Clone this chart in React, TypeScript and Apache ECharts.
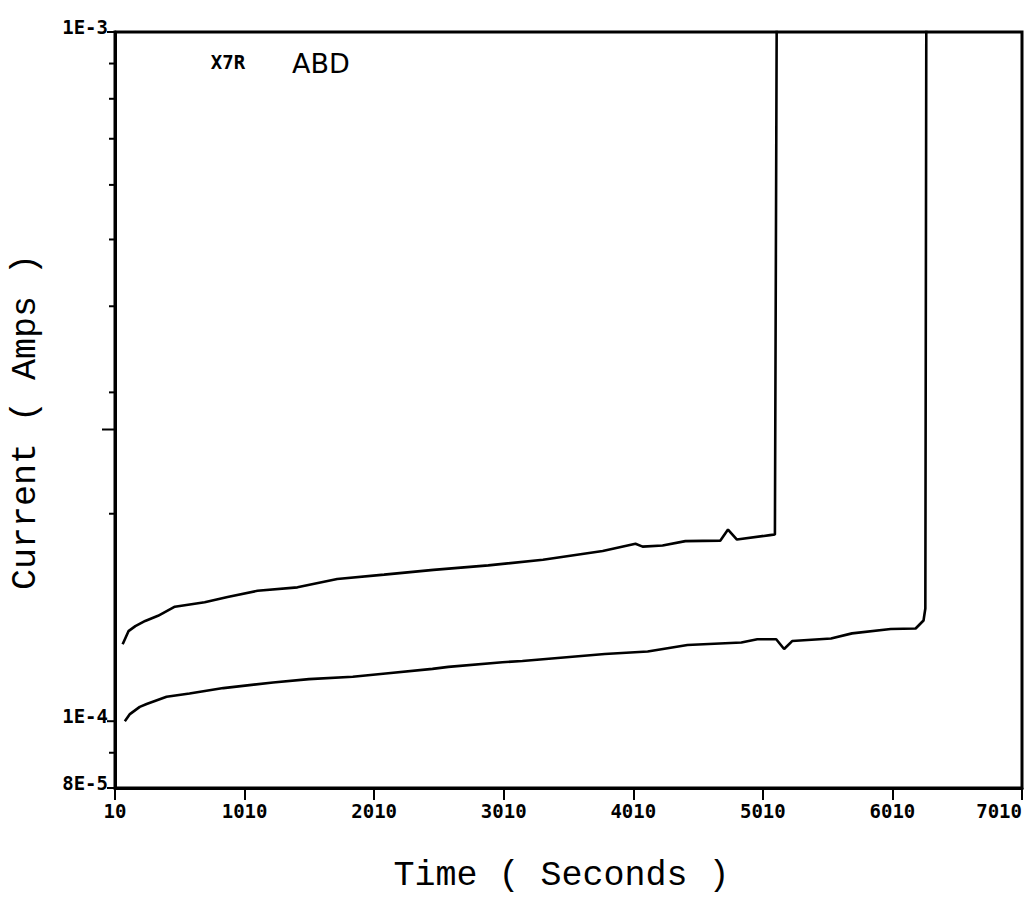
import React, { useEffect, useRef } from "react";
import * as echarts from "echarts";

// Leakage current of two X7R parts held under stress, logged against elapsed time.
const timeUpper = [69, 114, 167, 243, 342, 472, 702, 879, 1110, 1418, 1725, 2087, 2468, 2891, 3313, 3774, 4027, 4082, 4236, 4412, 4681, 4741, 4810, 5065, 5103, 5118];
const currentUpper = [1.293e-4, 1.351e-4, 1.374e-4, 1.398e-4, 1.422e-4, 1.466e-4, 1.488e-4, 1.514e-4, 1.546e-4, 1.564e-4, 1.608e-4, 1.632e-4, 1.658e-4, 1.683e-4, 1.715e-4, 1.766e-4, 1.809e-4, 1.792e-4, 1.799e-4, 1.825e-4, 1.828e-4, 1.897e-4, 1.835e-4, 1.862e-4, 1.866e-4, 1.2e-3];

const timeLower = [86, 125, 201, 254, 408, 585, 846, 1230, 1507, 1845, 2099, 2460, 2583, 3000, 3154, 3790, 4121, 4428, 4844, 4967, 5113, 5174, 5236, 5536, 5698, 5997, 6189, 6250, 6264, 6272];
const currentLower = [1.0e-4, 1.024e-4, 1.049e-4, 1.059e-4, 1.085e-4, 1.097e-4, 1.117e-4, 1.138e-4, 1.151e-4, 1.16e-4, 1.173e-4, 1.191e-4, 1.199e-4, 1.218e-4, 1.223e-4, 1.252e-4, 1.262e-4, 1.29e-4, 1.301e-4, 1.315e-4, 1.315e-4, 1.273e-4, 1.307e-4, 1.318e-4, 1.341e-4, 1.361e-4, 1.363e-4, 1.4e-4, 1.457e-4, 1.2e-3];

// Axis ranges and the left-axis tick marks / labels
const X_MIN = 10;
const X_MAX = 7010;
const X_STEP = 1000;
const Y_MIN = 8e-5;
const Y_MAX = 1e-3;
const yLabelValues = [1e-3, 1e-4, 8e-5];
const yLabelTexts = ["1E-3", "1E-4", "8E-5"];
const yMinorTicks = [9e-4, 8e-4, 7e-4, 6e-4, 5e-4, 4e-4, 3e-4, 2e-4, 9e-5];
const yLongTick = [2.65e-4];

const TICK_FONT = {
  fontFamily: "DejaVu Sans Mono",
  fontWeight: "bold" as const,
  fontSize: 19,
};
const TITLE_FONT = {
  fontFamily: "Liberation Mono",
  fontSize: 35,
  color: "#000",
};

type TickItem = { v: number; len: number; label: string };
const tickItems: TickItem[] = [
  ...yLabelValues.map((v, i) => ({ v, len: 8, label: yLabelTexts[i] })),
  ...yMinorTicks.map((v) => ({ v, len: 6, label: "" })),
  ...yLongTick.map((v) => ({ v, len: 13, label: "" })),
];

export default function App() {
  const ref = useRef<HTMLDivElement>(null);

  useEffect(() => {
    if (!ref.current) return;
    const chart = echarts.init(ref.current, null, { renderer: "svg" });

    const lineStyle = { color: "#000", width: 2.6 };

    chart.setOption({
      animation: false,
      backgroundColor: "#fff",
      grid: {
        left: 113,
        top: 32,
        width: 909,
        height: 756,
        show: true,
        borderColor: "#000",
        borderWidth: 3,
        backgroundColor: "transparent",
      },
      xAxis: {
        type: "value",
        min: X_MIN,
        max: X_MAX,
        interval: X_STEP,
        name: "Time ( Seconds )",
        nameLocation: "middle",
        nameGap: 70,
        nameTextStyle: { ...TITLE_FONT, padding: [0, 14, 0, 0] },
        axisLine: { show: true, lineStyle: { color: "#000", width: 3 } },
        axisTick: { show: true, inside: false, length: 12, lineStyle: { color: "#000", width: 2 } },
        axisLabel: {
          ...TICK_FONT,
          color: "#000",
          margin: 13,
          alignMaxLabel: "right",
          formatter: (v: number) => String(v),
        },
        splitLine: { show: false },
      },
      yAxis: {
        type: "log",
        logBase: 10,
        min: Y_MIN,
        max: Y_MAX,
        name: "Current ( Amps )",
        nameLocation: "middle",
        nameRotate: 90,
        nameGap: 72,
        nameTextStyle: { ...TITLE_FONT, padding: [0, 24, 0, 0] },
        axisLine: { show: true, lineStyle: { color: "#000", width: 3 } },
        axisTick: { show: false },
        axisLabel: { show: false },
        splitLine: { show: false },
      },
      graphic: [
        {
          type: "text",
          x: 228,
          y: 62,
          style: {
            text: "X7R",
            fontFamily: "DejaVu Sans Mono",
            fontWeight: "bold",
            fontSize: 19,
            fill: "#000",
            align: "center",
            verticalAlign: "middle",
          },
        },
        {
          type: "text",
          x: 321,
          y: 63,
          style: {
            text: "ABD",
            fontFamily: "DejaVu Sans",
            fontSize: 27,
            fill: "#000",
            align: "center",
            verticalAlign: "middle",
          },
        },
      ],
      series: [
        {
          type: "line",
          data: timeUpper.map((t, i) => [t, currentUpper[i]]),
          showSymbol: false,
          symbol: "none",
          lineStyle,
          clip: true,
          silent: true,
        },
        {
          type: "line",
          data: timeLower.map((t, i) => [t, currentLower[i]]),
          showSymbol: false,
          symbol: "none",
          lineStyle,
          clip: true,
          silent: true,
        },
        {
          // left-axis tick marks and their labels
          type: "custom",
          silent: true,
          clip: false,
          data: tickItems.map((t) => [X_MIN, t.v]),
          renderItem: (params: any, api: any) => {
            const item = tickItems[params.dataIndex];
            const p = api.coord([X_MIN, api.value(1)]);
            const children: any[] = [
              {
                type: "line",
                shape: { x1: p[0] - item.len, y1: p[1], x2: p[0], y2: p[1] },
                style: { stroke: "#000", lineWidth: 2 },
              },
            ];
            if (item.label) {
              children.push({
                type: "text",
                x: p[0] - 7,
                y: p[1] - 5,
                style: {
                  text: item.label,
                  ...TICK_FONT,
                  fill: "#000",
                  align: "right",
                  verticalAlign: "middle",
                },
              });
            }
            return { type: "group", children };
          },
        },
      ],
    });

    return () => chart.dispose();
  }, []);

  return (
    <div
      ref={ref}
      style={{ position: "fixed", left: 0, top: 0, width: 1028, height: 917, background: "#fff" }}
    />
  );
}
